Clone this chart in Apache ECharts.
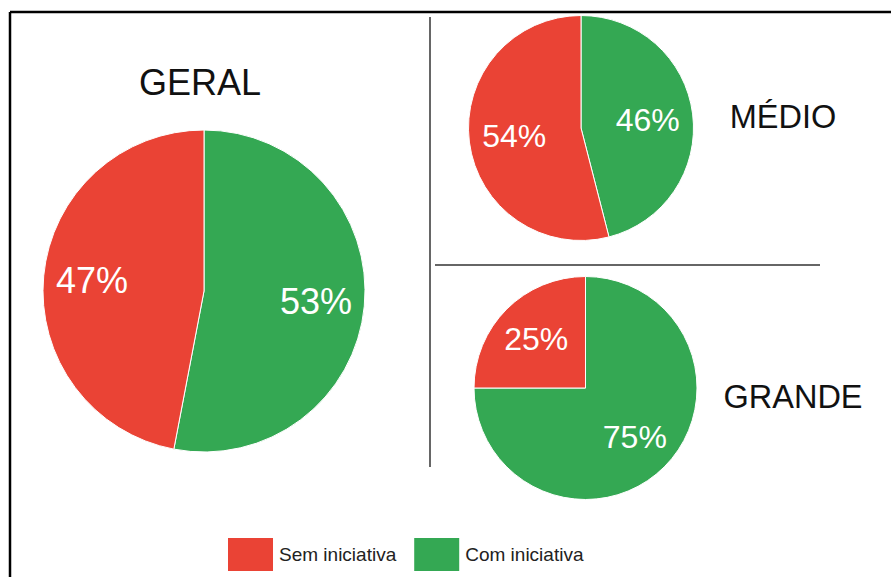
<!DOCTYPE html>
<html>
<head>
<meta charset="utf-8">
<style>
  html, body { margin: 0; padding: 0; background: #fff; }
  #chart { width: 891px; height: 577px; }
</style>
<script src="https://cdn.jsdelivr.net/npm/echarts@6/dist/echarts.min.js"></script>
</head>
<body>
<div id="chart"></div>
<script>
// Share of companies with / without an initiative, by company size
const categories = ['Com iniciativa', 'Sem iniciativa'];
const legendOrder = ['Sem iniciativa', 'Com iniciativa'];
const groupNames = ['GERAL', 'MÉDIO', 'GRANDE'];
const geralValues = [53, 47];
const medioValues = [46, 54];
const grandeValues = [75, 25];

const sliceColors = { 'Com iniciativa': '#34a853', 'Sem iniciativa': '#ea4335' };
const FONT = '"Liberation Sans", Arial, sans-serif';

function toData(values) {
  return categories.map((name, i) => ({
    name, value: values[i], itemStyle: { color: sliceColors[name] }
  }));
}

// Solid pie (no labels) plus a transparent ring on top that carries the labels,
// so the percentages sit further out than the default half-radius.
function pieSeries(values, center, r, labelInner, fontSize) {
  return [
    {
      type: 'pie', center, radius: [0, r], startAngle: 90, clockwise: true,
      data: toData(values), label: { show: false }, labelLine: { show: false },
      itemStyle: { borderColor: '#ffffff', borderWidth: 1 },
      emphasis: { disabled: true }, silent: true
    },
    {
      type: 'pie', center, radius: [labelInner, r], startAngle: 90, clockwise: true,
      data: categories.map((name, i) => ({ name, value: values[i] })),
      itemStyle: { color: 'transparent', borderWidth: 0 },
      label: {
        show: true, position: 'inside', formatter: '{c}%',
        color: '#ffffff', fontSize, fontFamily: FONT
      },
      labelLine: { show: false }, emphasis: { disabled: true }, silent: true
    }
  ];
}

const chart = echarts.init(document.getElementById('chart'), null, { renderer: 'svg' });

const titleStyle = (size) => ({ color: '#111111', fontSize: size, fontWeight: 'normal', fontFamily: FONT });

chart.setOption({
  animation: false,
  backgroundColor: '#ffffff',
  title: [
    { text: groupNames[0], left: 200, top: 64, textAlign: 'center', textStyle: titleStyle(36), padding: 0 },
    { text: groupNames[1], left: 783, top: 100, textAlign: 'center', textStyle: titleStyle(32.5), padding: 0 },
    { text: groupNames[2], left: 793, top: 380, textAlign: 'center', textStyle: titleStyle(32.5), padding: 0 }
  ],
  legend: {
    data: legendOrder, left: 226, top: 536, orient: 'horizontal',
    icon: 'rect', itemWidth: 47, itemHeight: 35, itemGap: 16, padding: 0,
    selectedMode: false,
    textStyle: { color: '#222222', fontSize: 19, fontFamily: FONT }
  },
  graphic: [
    // frame: top and left edges
    { type: 'line', shape: { x1: 10, y1: 12, x2: 891, y2: 12 }, style: { stroke: '#000', lineWidth: 2.5 } },
    { type: 'line', shape: { x1: 10, y1: 12, x2: 10, y2: 577 }, style: { stroke: '#000', lineWidth: 2.5 } },
    // panel dividers
    { type: 'line', shape: { x1: 430, y1: 17, x2: 430, y2: 467 }, style: { stroke: '#333', lineWidth: 1.5 } },
    { type: 'line', shape: { x1: 435, y1: 265, x2: 820, y2: 265 }, style: { stroke: '#333', lineWidth: 1.5 } }
  ],
  series: [
    ...pieSeries(geralValues, [204, 291], 161, 58, 36),
    ...pieSeries(medioValues, [581, 128], 112.5, 16, 32),
    ...pieSeries(grandeValues, [585.5, 388], 111.5, 22, 32)
  ]
});
</script>
</body>
</html>
